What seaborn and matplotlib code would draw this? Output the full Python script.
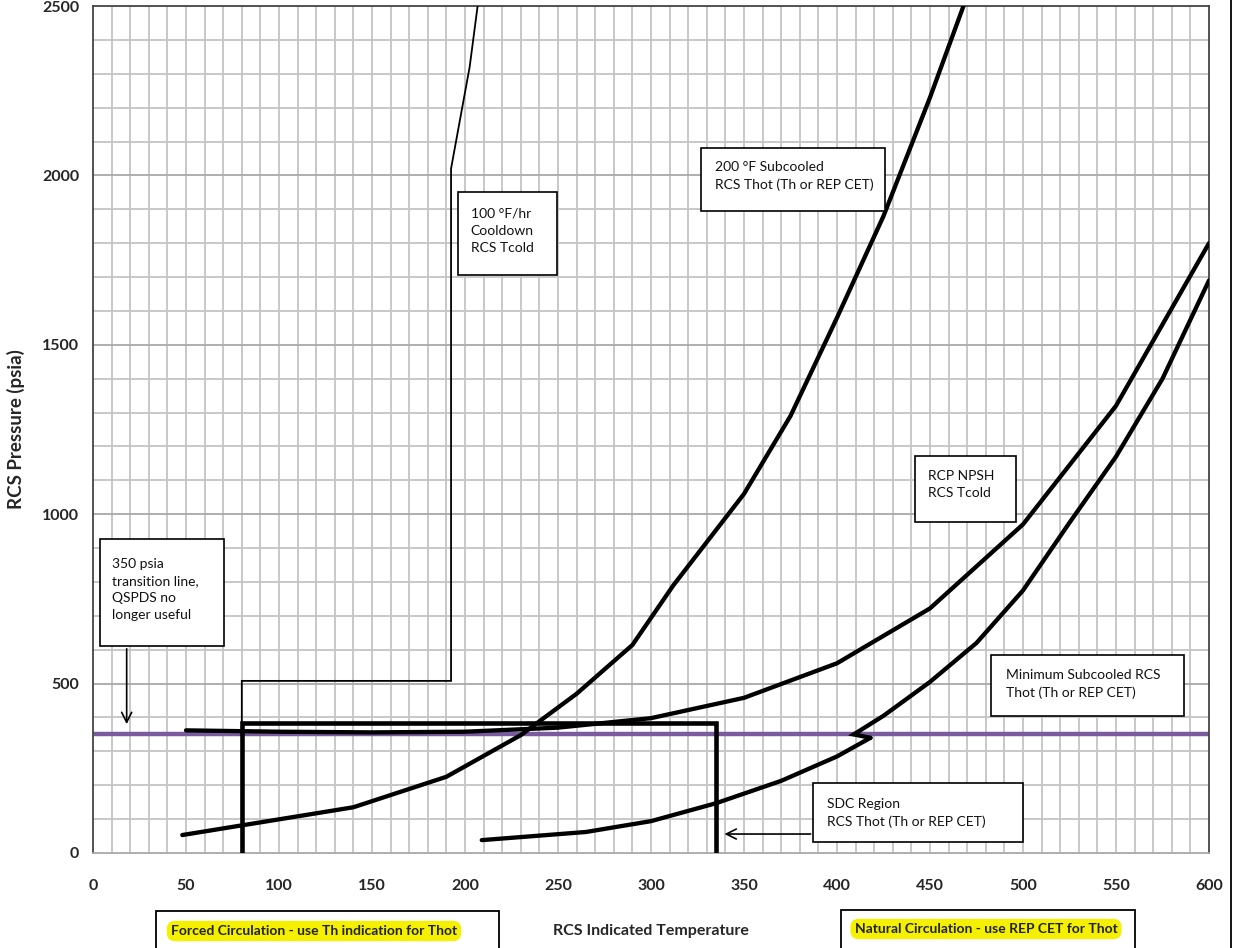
import matplotlib
matplotlib.use("Agg")
import matplotlib.pyplot as plt
from matplotlib.patches import Rectangle
from matplotlib.lines import Line2D
import pandas as pd
import seaborn as sns

# RCS temperature (deg F) / pressure (psia) curves
cooldown_temp = [80, 80, 192.5, 192.5, 202.5, 207.5]
cooldown_press = [0, 508, 508, 2020, 2320, 2530]

subcooled200_temp = [48, 140, 190, 230, 260, 290, 312, 350, 375, 400, 425, 450, 470]
subcooled200_press = [53, 135, 225, 348, 470, 614, 790, 1060, 1290, 1580, 1880, 2230, 2530]

npsh_temp = [50, 100, 150, 200, 250, 300, 350, 400, 450, 500, 550, 600]
npsh_press = [362, 358, 356, 358, 370, 398, 458, 560, 722, 970, 1320, 1800]

min_sub_temp = [418, 409, 425, 450, 475, 500, 525, 550, 575, 600]
min_sub_press = [340, 350, 405, 505, 620, 775, 975, 1170, 1400, 1690]

sdc_temp = [209, 265, 300, 335, 370, 400, 418]
sdc_press = [38, 62, 94, 147, 213, 285, 340]

sdc_entry_temp = [80, 80, 335, 335]
sdc_entry_press = [0, 385, 385, 0]

transition_press = 350

x_ticks = [0, 50, 100, 150, 200, 250, 300, 350, 400, 450, 500, 550, 600]
y_ticks = [0, 500, 1000, 1500, 2000, 2500]

sns.set_style("white")
plt.rcParams["font.family"] = ["Lato", "DejaVu Sans"]

W, H = 1235, 948
fig = plt.figure(figsize=(W / 100, H / 100), dpi=100)
ax = fig.add_axes([93 / W, 1 - 853 / H, (1209 - 93) / W, (853 - 6) / H])

ax.set_xlim(0, 600)
ax.set_ylim(0, 2500)

# graph-paper grid
for t in range(10, 600, 10):
    ax.axvline(t, color="#c4c4c4", lw=1.3, zorder=0)
for p in range(100, 2500, 100):
    ax.axhline(p, color="#a8a8a8" if p % 500 == 0 else "#c4c4c4", lw=1.3, zorder=0)

for side in ["left", "top", "right"]:
    ax.spines[side].set_color("#444444")
    ax.spines[side].set_linewidth(1.3)
ax.spines["bottom"].set_color("#a8a8a8")
ax.spines["bottom"].set_linewidth(1.3)

# 350 psia transition line
ax.axhline(transition_press, color="#7a5c9e", lw=3.2, zorder=2)

def curve(t, p, lw, z=3):
    df = pd.DataFrame({"temp": t, "press": p})
    sns.lineplot(data=df, x="temp", y="press", ax=ax, sort=False, estimator=None,
                 color="black", lw=lw, zorder=z, solid_joinstyle="miter")

curve(cooldown_temp, cooldown_press, 1.3)
curve(subcooled200_temp, subcooled200_press, 3.1)
curve(npsh_temp, npsh_press, 3.1)
curve(sdc_temp, sdc_press, 3.1)
curve(min_sub_temp, min_sub_press, 3.1)
curve(sdc_entry_temp, sdc_entry_press, 3.3, z=4)

ax.set_xticks(x_ticks)
ax.set_yticks(y_ticks)
ax.set_xticklabels([str(v) for v in x_ticks], fontsize=11.5, fontweight="bold")
ax.set_yticklabels([str(v) for v in y_ticks], fontsize=11.5, fontweight="bold")
ax.tick_params(axis="x", length=0, pad=19)
ax.tick_params(axis="y", length=0, pad=10)
ax.set_xlabel("RCS Indicated Temperature", fontsize=11.5, fontweight="bold", labelpad=22)
ax.set_ylabel("RCS Pressure (psia)", fontsize=13.5, fontweight="bold", labelpad=12)


def note(t0, p0, t1, p1, text, tx, ty):
    ax.add_patch(Rectangle((t0, p1), t1 - t0, p0 - p1, fc="white", ec="black",
                           lw=1.2, zorder=6))
    ax.text(tx, ty, text, fontsize=10, va="center", ha="left",
            linespacing=1.5, zorder=7, color="#111111")


note(196.4, 1952, 249.2, 1706, "100 °F/hr\nCooldown\nRCS Tcold", 203, 1837)
note(326.7, 2080, 425.8, 1895, "200 °F Subcooled\nRCS Thot (Th or REP CET)", 334.4, 1999)
note(441.9, 1172, 496.1, 978, "RCP NPSH\nRCS Tcold", 449, 1087)
note(482.8, 584, 586.6, 405, "Minimum Subcooled RCS\nThot (Th or REP CET)", 490.9, 498)
note(387.3, 206, 500.2, 33, "SDC Region\nRCS Thot (Th or REP CET)", 394.4, 117)
note(3.8, 926, 70.6, 611, "350 psia\ntransition line,\nQSPDS no\nlonger useful", 10.4, 777)

arrow = dict(arrowstyle="->", color="black", lw=1.2, mutation_scale=18)
ax.annotate("", xy=(18.1, 372), xytext=(18.1, 611), arrowprops=arrow, zorder=7)
ax.annotate("", xy=(338, 56), xytext=(387.3, 56), arrowprops=arrow, zorder=7)

# circulation-mode captions below the chart
def caption(x0, x1, y0, text, cx, cy):
    fig.patches.append(Rectangle((x0 / W, 1 - (y0 + 60) / H), (x1 - x0) / W, 60 / H,
                                 transform=fig.transFigure, fc="white", ec="black",
                                 lw=1.3))
    fig.text(cx / W, 1 - cy / H, text, fontsize=10, fontweight="bold", ha="center",
             va="center", color="#222222",
             bbox=dict(boxstyle="round,pad=0.3,rounding_size=0.6", fc="#f4f000", ec="none"))


caption(156, 499, 911, "Forced Circulation - use Th indication for Thot", 314, 931)
caption(841, 1135, 910, "Natural Circulation - use REP CET for Thot", 986, 929)

fig.add_artist(Line2D([1231 / W, 1231 / W], [0, 1], color="black", lw=1.3,
                      transform=fig.transFigure))

fig.savefig("out.png", dpi=100)
